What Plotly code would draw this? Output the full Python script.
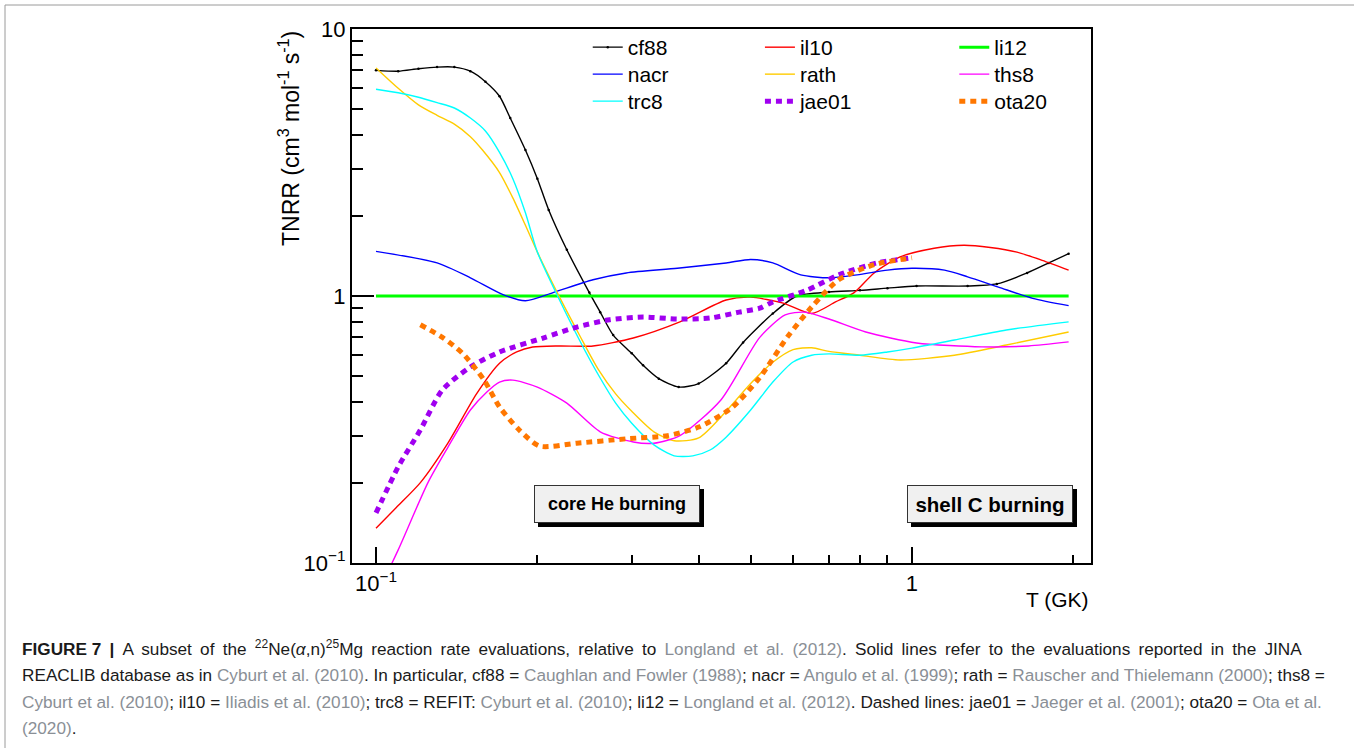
import plotly.graph_objects as go

# ---------------- data ----------------
cf88_T = [0.1, 0.11, 0.12, 0.13, 0.14, 0.15, 0.16, 0.17, 0.178, 0.19, 0.2, 0.21, 0.227, 0.25, 0.262,
          0.277, 0.3, 0.315, 0.337, 0.367, 0.4, 0.45, 0.484, 0.55, 0.61, 0.7, 0.8, 0.9, 1.02, 1.27,
          1.44, 1.64, 1.8, 1.96]
cf88_V = [7.0, 6.95, 7.1, 7.2, 7.2, 6.95, 6.35, 5.6, 4.64, 3.52, 2.75, 2.1, 1.49, 1.03, 0.87,
          0.714, 0.61, 0.55, 0.49, 0.456, 0.47, 0.56, 0.67, 0.86, 1.0, 1.035, 1.05, 1.07, 1.09, 1.09,
          1.11, 1.22, 1.33, 1.44]

nacr_T = [0.1, 0.13, 0.15, 0.173, 0.19, 0.214, 0.254, 0.293, 0.365, 0.45, 0.5, 0.55, 0.62, 0.7,
          0.79, 0.9, 1.0, 1.15, 1.27, 1.45, 1.68, 1.96]
nacr_V = [1.47, 1.33, 1.17, 1.01, 0.96, 1.03, 1.15, 1.22, 1.27, 1.33, 1.37, 1.33, 1.2, 1.17,
          1.2, 1.25, 1.27, 1.25, 1.18, 1.08, 0.98, 0.92]

li12_T = [0.1, 1.96]
li12_V = [1.0, 1.0]

il10_T = [0.1, 0.109, 0.121, 0.136, 0.154, 0.17, 0.183, 0.196, 0.22, 0.254, 0.302, 0.369, 0.45,
          0.5, 0.575, 0.65, 0.72, 0.78, 0.85, 0.95, 1.1, 1.25, 1.4, 1.57, 1.75, 1.96]
il10_V = [0.135, 0.161, 0.2, 0.28, 0.43, 0.56, 0.617, 0.644, 0.65, 0.65, 0.696, 0.8, 0.966,
          0.99, 0.94, 0.86, 0.95, 1.03, 1.22, 1.4, 1.51, 1.55, 1.52, 1.46, 1.36, 1.25]

rath_T = [0.1, 0.11, 0.12, 0.13, 0.14, 0.15, 0.158, 0.17, 0.18, 0.19, 0.2, 0.22, 0.24, 0.26, 0.28,
          0.3, 0.33, 0.36, 0.4, 0.45, 0.5, 0.55, 0.6, 0.65, 0.7, 0.8, 0.95, 1.2, 1.5, 1.96]
rath_V = [7.15, 6.0, 5.2, 4.75, 4.4, 3.95, 3.52, 2.9, 2.33, 1.84, 1.46, 0.99, 0.71, 0.53, 0.43,
          0.37, 0.31, 0.287, 0.294, 0.37, 0.47, 0.565, 0.63, 0.64, 0.62, 0.6, 0.576, 0.6, 0.655, 0.733]

ths8_T = [0.1, 0.11, 0.125, 0.136, 0.15, 0.161, 0.17, 0.18, 0.2, 0.227, 0.262, 0.302, 0.33,
          0.369, 0.44, 0.52, 0.58, 0.63, 0.7, 0.82, 1.02, 1.35, 1.65, 1.96]
ths8_V = [0.075, 0.112, 0.2, 0.27, 0.374, 0.437, 0.476, 0.484, 0.456, 0.397, 0.31, 0.284, 0.281,
          0.3, 0.408, 0.70, 0.85, 0.87, 0.82, 0.733, 0.667, 0.645, 0.65, 0.673]

trc8_T = [0.1, 0.11, 0.12, 0.13, 0.14, 0.15, 0.16, 0.17, 0.18, 0.19, 0.2, 0.22, 0.24, 0.26, 0.28,
          0.3, 0.33, 0.36, 0.39, 0.42, 0.45, 0.5, 0.55, 0.6, 0.65, 0.7, 0.8, 0.9, 1.0, 1.2, 1.5, 1.96]
trc8_V = [5.95, 5.77, 5.55, 5.3, 5.06, 4.64, 4.15, 3.45, 2.75, 2.05, 1.46, 0.966, 0.68, 0.506,
          0.397, 0.334, 0.277, 0.252, 0.252, 0.265, 0.296, 0.374, 0.476, 0.566, 0.6, 0.607, 0.6,
          0.617, 0.638, 0.684, 0.746, 0.8]

jae01_T = [0.1, 0.11, 0.121, 0.133, 0.15, 0.17, 0.205, 0.237, 0.273, 0.315, 0.365, 0.42, 0.476,
           0.52, 0.55, 0.636, 0.73, 0.86, 1.0]
jae01_V = [0.154, 0.229, 0.315, 0.445, 0.542, 0.617, 0.696, 0.765, 0.815, 0.834, 0.82, 0.827,
           0.87, 0.9, 0.95, 1.05, 1.2, 1.33, 1.39]

ota20_T = [0.121, 0.133, 0.145, 0.159, 0.17, 0.185, 0.202, 0.237, 0.294, 0.35, 0.4, 0.46, 0.52,
           0.585, 0.65, 0.73, 0.85, 1.0]
ota20_V = [0.78, 0.70, 0.61, 0.485, 0.384, 0.315, 0.274, 0.281, 0.292, 0.30, 0.323, 0.38, 0.495,
           0.70, 0.91, 1.15, 1.31, 1.39]

y_tickvals = [0.1, 1, 10]
y_ticktext = ["10<sup>\u22121</sup>", "1", "10"]
x_tickvals = [0.1, 1]
x_ticktext = ["10<sup>\u22121</sup>", "1"]
y_minor = [0.2, 0.3, 0.4, 0.5, 0.6, 0.7, 0.8, 0.9, 2, 3, 4, 5, 6, 7, 8, 9]
x_minor = [0.2, 0.3, 0.4, 0.5, 0.6, 0.7, 0.8, 0.9, 2]

FONT = "Liberation Sans, Arial, Helvetica, sans-serif"

series = [
    # name, T, V, color, width, dash, column, row
    ("cf88", cf88_T, cf88_V, "#000000", 1.4, "solid", 0, 0),
    ("il10", il10_T, il10_V, "#ff0000", 1.4, "solid", 1, 0),
    ("li12", li12_T, li12_V, "#00ff00", 3, "solid", 2, 0),
    ("nacr", nacr_T, nacr_V, "#0000ff", 1.4, "solid", 0, 1),
    ("rath", rath_T, rath_V, "#ffcc00", 1.4, "solid", 1, 1),
    ("ths8", ths8_T, ths8_V, "#ff00ff", 1.4, "solid", 2, 1),
    ("trc8", trc8_T, trc8_V, "#00ffff", 1.4, "solid", 0, 2),
    ("jae01", jae01_T, jae01_V, "#a000f0", 5, "6px,5px", 1, 2),
    ("ota20", ota20_T, ota20_V, "#ff7700", 5, "6px,5px", 2, 2),
]
leg_x = [0.319, 0.552, 0.815]
leg_y = [1.0037, 0.9532, 0.9026]

fig = go.Figure()
legends = {}
for i, (name, T, V, color, width, dash, col, row) in enumerate(series):
    key = "legend" if i == 0 else "legend%d" % (i + 1)
    kw = {}
    if name == "cf88":
        mode = "lines+markers"
        kw["marker"] = dict(size=2.5, color="#000000")
    else:
        mode = "lines"
    fig.add_trace(go.Scatter(
        x=T, y=V, name=name, mode=mode, legend=key,
        line=dict(color=color, width=width, dash=dash, shape="spline", smoothing=0.7),
        **kw))
    legends[key] = dict(x=leg_x[col], y=leg_y[row], xanchor="left", yanchor="top",
                        bgcolor="rgba(0,0,0,0)", font=dict(size=21, family=FONT, color="#000"),
                        orientation="v", itemwidth=30)

fig.update_layout(
    width=1354, height=748,
    margin=dict(l=352, r=263, t=29, b=185),
    paper_bgcolor="white", plot_bgcolor="white",
    font=dict(family=FONT, color="#000"),
    showlegend=True,
    xaxis=dict(type="log", range=[-1.0448, 0.334], tickvals=x_tickvals, ticktext=x_ticktext,
               ticks="inside", ticklen=16, tickwidth=2, tickcolor="#000",
               showline=True, linecolor="#000", linewidth=2, mirror=True,
               showgrid=False, zeroline=False, tickfont=dict(size=22, family=FONT),
               minor=dict(tickvals=x_minor, ticks="inside", ticklen=8, tickwidth=2,
                          tickcolor="#000", showgrid=False)),
    yaxis=dict(type="log", range=[-1, 1], tickvals=y_tickvals, ticktext=y_ticktext,
               ticks="inside", ticklen=22, tickwidth=2, tickcolor="#000",
               showline=True, linecolor="#000", linewidth=2, mirror=True,
               showgrid=False, zeroline=False, tickfont=dict(size=22, family=FONT),
               minor=dict(tickvals=y_minor, ticks="inside", ticklen=11, tickwidth=2,
                          tickcolor="#000", showgrid=False)),
    **legends,
)

# axis titles
fig.add_annotation(xref="paper", yref="paper", x=-0.086, y=1.0, xanchor="center", yanchor="top",
                   text="TNRR (cm<sup>3</sup> mol<sup>-1</sup> s<sup>-1</sup>)", textangle=-90,
                   showarrow=False, font=dict(size=23, family=FONT, color="#000"))
fig.add_annotation(xref="paper", yref="paper", x=1.0, y=-0.069, xanchor="right", yanchor="middle",
                   text="T (GK)", showarrow=False, font=dict(size=21, family=FONT, color="#000"))

# burning-phase labels with drop shadow
boxes = [("core He burning", 0.358, 18), ("shell C burning", 0.8633, 20.5)]
for text, xp, fs in boxes:
    # shadow (empty box)
    fig.add_annotation(
        xref="paper", yref="paper", x=xp, y=0.1105, xanchor="center", yanchor="middle",
        text=" ", showarrow=False, width=160, height=32,
        font=dict(size=fs, family=FONT), bgcolor="#000", bordercolor="#000",
        borderwidth=1, borderpad=2, xshift=4, yshift=-4)
    fig.add_annotation(
        xref="paper", yref="paper", x=xp, y=0.1105, xanchor="center", yanchor="middle",
        text="<b>%s</b>" % text, showarrow=False, width=160, height=32, align="center",
        font=dict(size=fs, family=FONT, color="#000"),
        bgcolor="#f0f0f0", bordercolor="#333", borderwidth=1, borderpad=2)

# caption
G = "<span style='color:#8a8f96'>%s</span>"
TS = " \u2009"  # widened word gap to mimic the justified first line
line1 = ("<b>FIGURE 7 |</b> A subset of the <sup>22</sup>Ne(<i>\u03b1</i>,n)<sup>25</sup>Mg reaction rate "
         "evaluations, relative to ").replace(" ", TS).replace("<b>FIGURE" + TS, "<b>FIGURE ") \
    + G % "Longland et al. (2012)".replace(" ", TS) \
    + ". Solid lines refer to the evaluations reported in the JINA".replace(" ", TS)
line1 = line1.replace("<span" + TS, "<span ")
cap_lines = [
    line1,
    "REACLIB database as in " + G % "Cyburt et al. (2010)" + ". In particular, cf88 = "
    + G % "Caughlan and Fowler (1988)" + "; nacr = " + G % "Angulo et al. (1999)" + "; rath = "
    + G % "Rauscher and Thielemann (2000)" + "; ths8 =",
    G % "Cyburt et al. (2010)" + "; il10 = " + G % "Iliadis et al. (2010)" + "; trc8 = REFIT: "
    + G % "Cyburt et al. (2010)" + "; li12 = " + G % "Longland et al. (2012)"
    + ". Dashed lines: jae01 = " + G % "Jaeger et al. (2001)" + "; ota20 = " + G % "Ota et al.",
    G % "(2020)" + ".",
]
cap_y = [648, 675, 702, 728]
for line, py in zip(cap_lines, cap_y):
    fig.add_annotation(xref="paper", yref="paper", x=(20 - 352) / 739, y=(563 - py) / 534,
                       xanchor="left", yanchor="middle", text=line, showarrow=False, align="left",
                       font=dict(size=17.2, family=FONT, color="#1a1a1a"))

# figure border (top and left)
fig.add_shape(type="line", xref="paper", yref="paper", x0=(5 - 352) / 739, x1=(1354 - 352) / 739,
              y0=(563 - 5) / 534, y1=(563 - 5) / 534, line=dict(color="#9a9a9a", width=1))
fig.add_shape(type="line", xref="paper", yref="paper", x0=(5 - 352) / 739, x1=(5 - 352) / 739,
              y0=(563 - 5) / 534, y1=(563 - 760) / 534, line=dict(color="#9a9a9a", width=1))

fig.write_html("out.html")
